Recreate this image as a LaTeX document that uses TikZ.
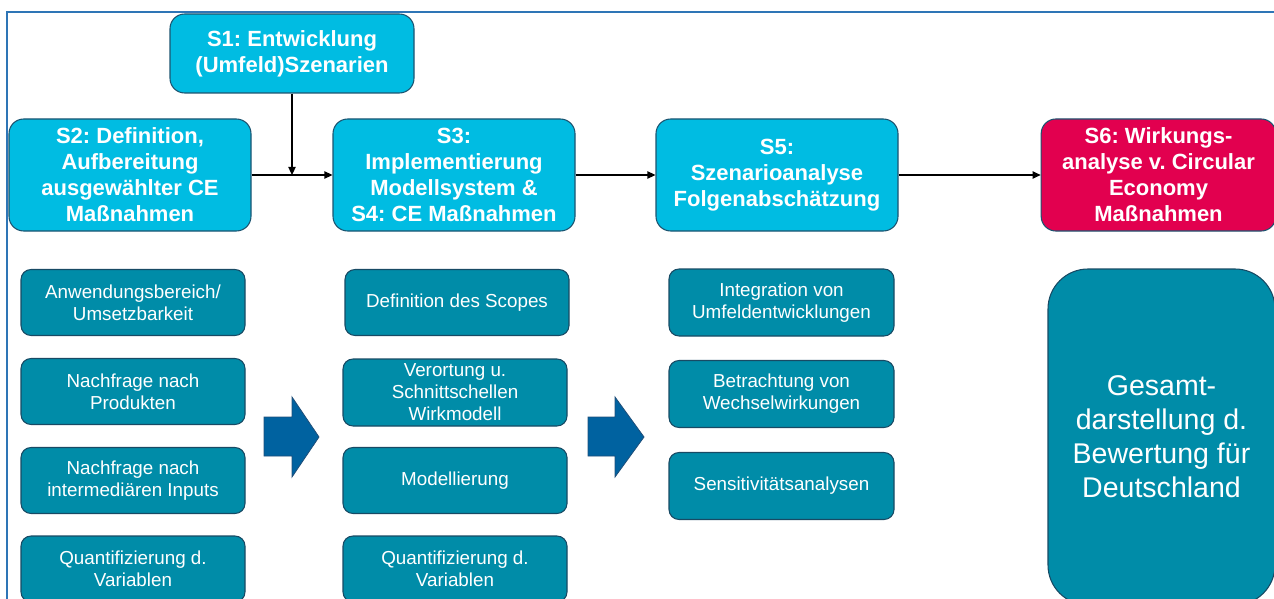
\documentclass[tikz,border=0pt]{standalone}
\usepackage{fontspec}
\setmainfont{Liberation Sans}
\usetikzlibrary{arrows.meta}
\frenchspacing
\definecolor{hdrfill}{RGB}{0,188,226}
\definecolor{hdrline}{RGB}{28,84,112}
\definecolor{redfill}{RGB}{226,0,79}
\definecolor{tealfill}{RGB}{0,140,168}
\definecolor{tealline}{RGB}{24,74,100}
\definecolor{arrfill}{RGB}{0,98,160}
\definecolor{arrline}{RGB}{31,78,121}
\definecolor{framec}{RGB}{46,117,182}
\tikzset{
  hdr/.style={rectangle, rounded corners=11pt, fill=hdrfill, draw=hdrline, line width=0.8pt,
    text=white, font=\frenchspacing\bfseries\fontsize{16.5}{19.5}\selectfont, align=center, inner sep=0pt,
    minimum width=181.5pt, minimum height=84pt},
  sbox/.style={rectangle, rounded corners=7.5pt, fill=tealfill, draw=tealline, line width=0.8pt,
    text=white, font=\frenchspacing\fontsize{14.1}{16.5}\selectfont, align=center, inner sep=0pt,
    minimum width=168pt, minimum height=49.5pt},
  conn/.style={draw=black, line width=0.8pt, -{Triangle[length=6pt,width=5.5pt]}},
  blockarr/.style={fill=arrfill, draw=arrline, line width=0.6pt, line join=miter},
}
\begin{document}
\begin{tikzpicture}[x=0.75pt, y=-0.75pt]
\useasboundingbox (0,0) rectangle (1274,599);
\clip (0,0) rectangle (1274,599);
% frame
\draw[framec, line width=1.4pt] (7,610) -- (7,12) -- (1290,12);
% header boxes
\node[hdr, minimum width=183pt, minimum height=59.25pt] (s1) at (292,53.5) {S1: Entwicklung\\(Umfeld)Szenarien};
\node[hdr] (s2) at (130,175) {S2: Definition,\\Aufbereitung\\ausgewählter CE\\Maßnahmen};
\node[hdr] (s3) at (454,175) {S3:\\Implementierung\\Modellsystem \&\\S4: CE Maßnahmen};
\node[hdr] (s5) at (777,175) {S5:\\Szenarioanalyse\\Folgenabschätzung};
\node[hdr, fill=redfill, minimum width=176pt] (s6) at (1158.5,175) {S6: Wirkungs-\\analyse v. Circular\\Economy\\Maßnahmen};
% connectors
\coordinate (j) at (s1.south |- s2.east);
\draw[conn] (s1.south) -- (j);
\draw[conn] (s2.east) -- (s3.west);
\draw[conn] (s3.east) -- (s5.west);
\draw[conn] (s5.east) -- (s6.west);
% column 1
\node[sbox] (a1) at (133,302.5) {Anwendungsbereich/\\Umsetzbarkeit};
\node[sbox] (a2) at (133,391.5) {Nachfrage nach\\Produkten};
\node[sbox] (a3) at (133,480.5) {Nachfrage nach\\intermediären Inputs};
\node[sbox] (a4) at (133,569) {Quantifizierung d.\\Variablen};
% column 2
\node[sbox] (b1) at (457,302.5) {Definition des Scopes};
\node[sbox, minimum height=50.25pt] (b2) at (455,392.5) {Verortung u.\\Schnittschellen\\Wirkmodell};
\node[sbox] (b3) at (455,480.5) {Modellierung};
\node[sbox] (b4) at (455,569) {Quantifizierung d.\\Variablen};
% column 3
\node[sbox, minimum width=168.75pt, minimum height=50.25pt] (c1) at (781.5,302.5) {Integration von\\Umfeldentwicklungen};
\node[sbox, minimum width=168.75pt, minimum height=50.25pt] (c2) at (781.5,394) {Betrachtung von\\Wechselwirkungen};
\node[sbox, minimum width=168.75pt, minimum height=50.25pt] (c3) at (781.5,486) {Sensitivitätsanalysen};
% big box
\node[sbox, rounded corners=30pt, minimum width=170.25pt, minimum height=252pt,
  font=\fontsize{21.4}{25.5}\selectfont] (g) at (1161.5,437) {Gesamt-\\darstellung d.\\Bewertung für\\Deutschland};
% block arrows
\draw[blockarr] (264,417) -- (292,417) -- (292,397) -- (319,437) -- (292,477) -- (292,456) -- (264,456) -- cycle;
\draw[blockarr] (588,417) -- (615,417) -- (615,397) -- (644,437) -- (615,477) -- (615,456) -- (588,456) -- cycle;
\end{tikzpicture}
\end{document}
